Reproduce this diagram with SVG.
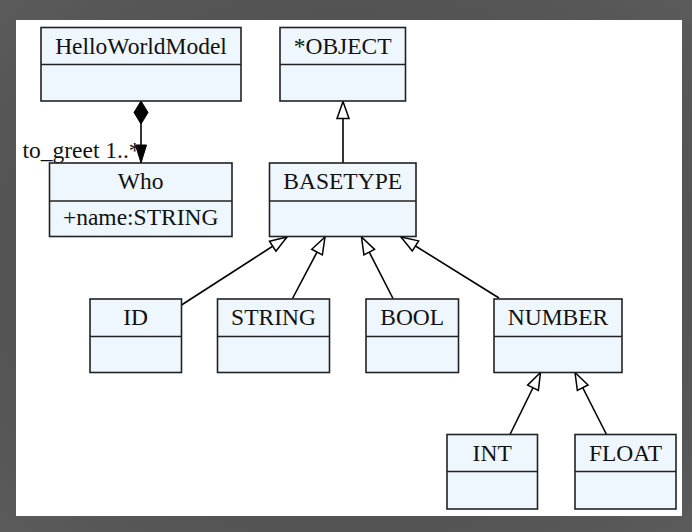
<svg xmlns="http://www.w3.org/2000/svg" width="692" height="532" viewBox="0 0 692 532">
<style>
.box{fill:#eef6fe;stroke:#222;stroke-width:1.6}
.div{stroke:#222;stroke-width:1.6}
.t{font-family:"Liberation Serif","Times New Roman",serif;font-size:23.5px;fill:#111;text-anchor:middle}
.lbl{font-family:"Liberation Serif","Times New Roman",serif;font-size:23.5px;fill:#111}
.edge{stroke:#000;stroke-width:1.6;fill:none}
</style>
<defs>
<radialGradient id="bg" cx="50%" cy="50%" r="75%">
<stop offset="0" stop-color="#444"/>
<stop offset="1" stop-color="#5c5c5c"/>
</radialGradient>
<marker id="gen" markerUnits="userSpaceOnUse" viewBox="-19 -8 21 16" markerWidth="21" markerHeight="16" refX="0" refY="0" orient="auto">
<path d="M0,0 L-17,-6 L-17,6 Z" fill="#fff" stroke="#000" stroke-width="1.5" stroke-linejoin="miter"/>
</marker>
<marker id="dia" markerUnits="userSpaceOnUse" viewBox="-1 -9 26 18" markerWidth="26" markerHeight="18" refX="0" refY="0" orient="auto">
<path d="M0,0 L11.5,-7 L23,0 L11.5,7 Z" fill="#000" stroke="#000" stroke-width="1"/>
</marker>
<marker id="arr" markerUnits="userSpaceOnUse" viewBox="-20 -7 21 14" markerWidth="21" markerHeight="14" refX="0" refY="0" orient="auto">
<path d="M0,0 L-18,-5.5 L-18,5.5 Z" fill="#000" stroke="#000" stroke-width="1"/>
</marker>
</defs>
<rect x="0" y="0" width="692" height="532" fill="url(#bg)"/>
<rect x="16" y="20" width="666" height="496" fill="#fff"/>

<g id="connectors">
<line class="edge" x1="141" y1="101" x2="141" y2="163" marker-start="url(#dia)" marker-end="url(#arr)"/>
<text class="lbl" x="22.5" y="157.5">to_greet 1..*</text>
<line class="edge" x1="343" y1="163" x2="343" y2="101.5" marker-end="url(#gen)"/>
<line class="edge" x1="181.5" y1="305" x2="287" y2="237" marker-end="url(#gen)"/>
<line class="edge" x1="292.5" y1="298.5" x2="325" y2="237" marker-end="url(#gen)"/>
<line class="edge" x1="393" y1="298.5" x2="361.5" y2="237" marker-end="url(#gen)"/>
<line class="edge" x1="499" y1="298" x2="401" y2="237" marker-end="url(#gen)"/>
<line class="edge" x1="510" y1="434.5" x2="540.5" y2="372.5" marker-end="url(#gen)"/>
<line class="edge" x1="606.5" y1="434.5" x2="575" y2="372.5" marker-end="url(#gen)"/>
</g>

<g id="HelloWorldModel">
<rect class="box" x="41" y="27.5" width="200" height="73.5"/>
<line class="div" x1="41" y1="64.5" x2="241" y2="64.5"/>
<text class="t" x="141" y="53.5">HelloWorldModel</text>
</g>
<g id="Who">
<rect class="box" x="49.5" y="163" width="182.5" height="73.5"/>
<line class="div" x1="49.5" y1="201" x2="232" y2="201"/>
<text class="t" x="140.7" y="189">Who</text>
<text class="t" x="140.7" y="225">+name:STRING</text>
</g>
<g id="OBJECT">
<rect class="box" x="280" y="27.5" width="125.5" height="73.5"/>
<line class="div" x1="280" y1="64.5" x2="405.5" y2="64.5"/>
<text class="t" x="342.7" y="53.5">*OBJECT</text>
</g>
<g id="BASETYPE">
<rect class="box" x="269.5" y="163" width="146.5" height="73.5"/>
<line class="div" x1="269.5" y1="201" x2="416" y2="201"/>
<text class="t" x="342.7" y="189">BASETYPE</text>
</g>
<g id="ID">
<rect class="box" x="90" y="299" width="91.5" height="73.5"/>
<line class="div" x1="90" y1="336.5" x2="181.5" y2="336.5"/>
<text class="t" x="135.7" y="325">ID</text>
</g>
<g id="STRING">
<rect class="box" x="217.5" y="299" width="112" height="73.5"/>
<line class="div" x1="217.5" y1="336.5" x2="329.5" y2="336.5"/>
<text class="t" x="273.5" y="325">STRING</text>
</g>
<g id="BOOL">
<rect class="box" x="366" y="299" width="92.5" height="73.5"/>
<line class="div" x1="366" y1="336.5" x2="458.5" y2="336.5"/>
<text class="t" x="412.2" y="325">BOOL</text>
</g>
<g id="NUMBER">
<rect class="box" x="494" y="299" width="128" height="73.5"/>
<line class="div" x1="494" y1="336.5" x2="622" y2="336.5"/>
<text class="t" x="558" y="325">NUMBER</text>
</g>
<g id="INT">
<rect class="box" x="447" y="434.5" width="90.5" height="74.5"/>
<line class="div" x1="447" y1="471.5" x2="537.5" y2="471.5"/>
<text class="t" x="492.2" y="460.5">INT</text>
</g>
<g id="FLOAT">
<rect class="box" x="575" y="434.5" width="101" height="74.5"/>
<line class="div" x1="575" y1="471.5" x2="676" y2="471.5"/>
<text class="t" x="625.5" y="460.5">FLOAT</text>
</g>
</svg>
